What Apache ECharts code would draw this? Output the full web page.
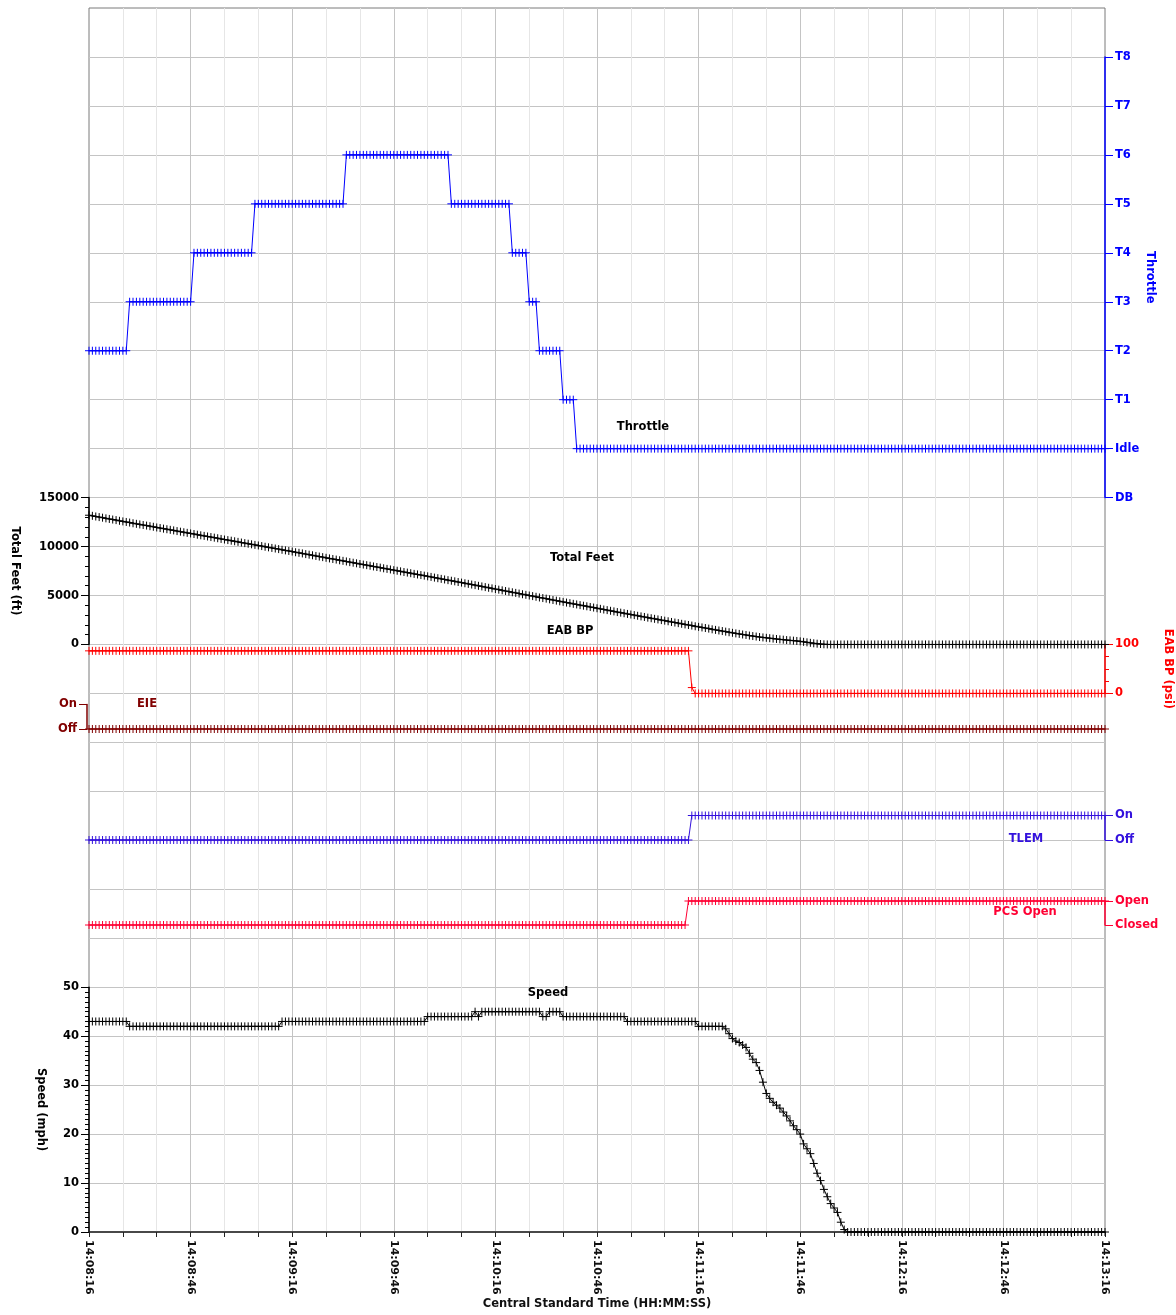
<!DOCTYPE html>
<html>
<head>
<meta charset="utf-8">
<title>Throttle / Speed event recorder</title>
<script src="https://cdn.jsdelivr.net/npm/echarts@6/dist/echarts.min.js"></script>
<style>
  html, body { margin: 0; padding: 0; background: #fff; }
  #main { width: 1176px; height: 1315px; }
</style>
</head>
<body>
<div id="main"></div>
<script>
// tick labels
var timeLabels = ['14:08:16', '14:08:46', '14:09:16', '14:09:46', '14:10:16', '14:10:46',
                  '14:11:16', '14:11:46', '14:12:16', '14:12:46', '14:13:16'];
var throttleLabels = ['DB', 'Idle', 'T1', 'T2', 'T3', 'T4', 'T5', 'T6', 'T7', 'T8'];
var onOffLabels = ['Off', 'On'];
var pcsLabels = ['Closed', 'Open'];

// one sample per second from 14:08:16, each row = 30 s
var throttle = [
  3,3,3,3,3,3,3,3,3,3, 3,3,4,4,4,4,4,4,4,4, 4,4,4,4,4,4,4,4,4,4,
  4,5,5,5,5,5,5,5,5,5, 5,5,5,5,5,5,5,5,5,6, 6,6,6,6,6,6,6,6,6,6,
  6,6,6,6,6,6,6,6,6,6, 6,6,6,6,6,6,7,7,7,7, 7,7,7,7,7,7,7,7,7,7,
  7,7,7,7,7,7,7,7,7,7, 7,7,7,7,7,7,7,6,6,6, 6,6,6,6,6,6,6,6,6,6,
  6,6,6,6,6,5,5,5,5,5, 4,4,4,3,3,3,3,3,3,3, 2,2,2,2,1,1,1,1,1,1,
  1,1,1,1,1,1,1,1,1,1, 1,1,1,1,1,1,1,1,1,1, 1,1,1,1,1,1,1,1,1,1,
  1,1,1,1,1,1,1,1,1,1, 1,1,1,1,1,1,1,1,1,1, 1,1,1,1,1,1,1,1,1,1,
  1,1,1,1,1,1,1,1,1,1, 1,1,1,1,1,1,1,1,1,1, 1,1,1,1,1,1,1,1,1,1,
  1,1,1,1,1,1,1,1,1,1, 1,1,1,1,1,1,1,1,1,1, 1,1,1,1,1,1,1,1,1,1,
  1,1,1,1,1,1,1,1,1,1, 1,1,1,1,1,1,1,1,1,1, 1,1,1,1,1,1,1,1,1,1,
  1
];

var totalFeet = [
  13200,13140,13070,13010,12950,12880,12820,12760,12700,12630, 12570,12510,12450,12380,12320,12260,12200,12140,12080,12020, 11950,11890,11830,11770,11710,11650,11580,11520,11460,11400,
  11340,11280,11210,11150,11090,11030,10970,10910,10850,10780, 10720,10660,10600,10540,10480,10410,10350,10290,10230,10170, 10110,10050,9980,9920,9860,9800,9740,9670,9610,9550,
  9490,9420,9360,9300,9230,9170,9110,9040,8980,8920, 8850,8790,8730,8670,8600,8540,8480,8410,8350,8290, 8220,8160,8100,8040,7970,7910,7850,7780,7720,7660,
  7590,7530,7470,7400,7340,7280,7210,7150,7090,7030, 6960,6900,6830,6770,6700,6640,6570,6510,6450,6380, 6320,6250,6190,6120,6060,5990,5930,5860,5790,5730,
  5660,5600,5530,5460,5400,5330,5270,5200,5130,5070, 5000,4940,4870,4800,4740,4680,4610,4540,4480,4410, 4350,4280,4220,4150,4090,4020,3960,3900,3830,3770,
  3700,3640,3570,3510,3440,3380,3310,3250,3190,3120, 3060,3000,2930,2870,2810,2740,2680,2620,2560,2490, 2430,2370,2300,2240,2180,2110,2050,1990,1930,1860,
  1800,1740,1680,1620,1550,1490,1430,1370,1310,1250, 1190,1130,1080,1020,970,910,860,810,760,720, 680,640,600,560,520,490,450,420,390,360,
  320,270,220,170,120,80,45,20,5,0, 0,0,0,0,0,0,0,0,0,0, 0,0,0,0,0,0,0,0,0,0,
  0,0,0,0,0,0,0,0,0,0, 0,0,0,0,0,0,0,0,0,0, 0,0,0,0,0,0,0,0,0,0,
  0,0,0,0,0,0,0,0,0,0, 0,0,0,0,0,0,0,0,0,0, 0,0,0,0,0,0,0,0,0,0,
  0
];

var eabBP = [
  87,87,87,87,87,87,87,87,87,87, 87,87,87,87,87,87,87,87,87,87, 87,87,87,87,87,87,87,87,87,87,
  87,87,87,87,87,87,87,87,87,87, 87,87,87,87,87,87,87,87,87,87, 87,87,87,87,87,87,87,87,87,87,
  87,87,87,87,87,87,87,87,87,87, 87,87,87,87,87,87,87,87,87,87, 87,87,87,87,87,87,87,87,87,87,
  87,87,87,87,87,87,87,87,87,87, 87,87,87,87,87,87,87,87,87,87, 87,87,87,87,87,87,87,87,87,87,
  87,87,87,87,87,87,87,87,87,87, 87,87,87,87,87,87,87,87,87,87, 87,87,87,87,87,87,87,87,87,87,
  87,87,87,87,87,87,87,87,87,87, 87,87,87,87,87,87,87,87,87,87, 87,87,87,87,87,87,87,87,12,0,
  0,0,0,0,0,0,0,0,0,0, 0,0,0,0,0,0,0,0,0,0, 0,0,0,0,0,0,0,0,0,0,
  0,0,0,0,0,0,0,0,0,0, 0,0,0,0,0,0,0,0,0,0, 0,0,0,0,0,0,0,0,0,0,
  0,0,0,0,0,0,0,0,0,0, 0,0,0,0,0,0,0,0,0,0, 0,0,0,0,0,0,0,0,0,0,
  0,0,0,0,0,0,0,0,0,0, 0,0,0,0,0,0,0,0,0,0, 0,0,0,0,0,0,0,0,0,0,
  0
];

var eie = [
  0,0,0,0,0,0,0,0,0,0, 0,0,0,0,0,0,0,0,0,0, 0,0,0,0,0,0,0,0,0,0,
  0,0,0,0,0,0,0,0,0,0, 0,0,0,0,0,0,0,0,0,0, 0,0,0,0,0,0,0,0,0,0,
  0,0,0,0,0,0,0,0,0,0, 0,0,0,0,0,0,0,0,0,0, 0,0,0,0,0,0,0,0,0,0,
  0,0,0,0,0,0,0,0,0,0, 0,0,0,0,0,0,0,0,0,0, 0,0,0,0,0,0,0,0,0,0,
  0,0,0,0,0,0,0,0,0,0, 0,0,0,0,0,0,0,0,0,0, 0,0,0,0,0,0,0,0,0,0,
  0,0,0,0,0,0,0,0,0,0, 0,0,0,0,0,0,0,0,0,0, 0,0,0,0,0,0,0,0,0,0,
  0,0,0,0,0,0,0,0,0,0, 0,0,0,0,0,0,0,0,0,0, 0,0,0,0,0,0,0,0,0,0,
  0,0,0,0,0,0,0,0,0,0, 0,0,0,0,0,0,0,0,0,0, 0,0,0,0,0,0,0,0,0,0,
  0,0,0,0,0,0,0,0,0,0, 0,0,0,0,0,0,0,0,0,0, 0,0,0,0,0,0,0,0,0,0,
  0,0,0,0,0,0,0,0,0,0, 0,0,0,0,0,0,0,0,0,0, 0,0,0,0,0,0,0,0,0,0,
  0
];

var tlem = [
  0,0,0,0,0,0,0,0,0,0, 0,0,0,0,0,0,0,0,0,0, 0,0,0,0,0,0,0,0,0,0,
  0,0,0,0,0,0,0,0,0,0, 0,0,0,0,0,0,0,0,0,0, 0,0,0,0,0,0,0,0,0,0,
  0,0,0,0,0,0,0,0,0,0, 0,0,0,0,0,0,0,0,0,0, 0,0,0,0,0,0,0,0,0,0,
  0,0,0,0,0,0,0,0,0,0, 0,0,0,0,0,0,0,0,0,0, 0,0,0,0,0,0,0,0,0,0,
  0,0,0,0,0,0,0,0,0,0, 0,0,0,0,0,0,0,0,0,0, 0,0,0,0,0,0,0,0,0,0,
  0,0,0,0,0,0,0,0,0,0, 0,0,0,0,0,0,0,0,0,0, 0,0,0,0,0,0,0,0,1,1,
  1,1,1,1,1,1,1,1,1,1, 1,1,1,1,1,1,1,1,1,1, 1,1,1,1,1,1,1,1,1,1,
  1,1,1,1,1,1,1,1,1,1, 1,1,1,1,1,1,1,1,1,1, 1,1,1,1,1,1,1,1,1,1,
  1,1,1,1,1,1,1,1,1,1, 1,1,1,1,1,1,1,1,1,1, 1,1,1,1,1,1,1,1,1,1,
  1,1,1,1,1,1,1,1,1,1, 1,1,1,1,1,1,1,1,1,1, 1,1,1,1,1,1,1,1,1,1,
  1
];

var pcsOpen = [
  0,0,0,0,0,0,0,0,0,0, 0,0,0,0,0,0,0,0,0,0, 0,0,0,0,0,0,0,0,0,0,
  0,0,0,0,0,0,0,0,0,0, 0,0,0,0,0,0,0,0,0,0, 0,0,0,0,0,0,0,0,0,0,
  0,0,0,0,0,0,0,0,0,0, 0,0,0,0,0,0,0,0,0,0, 0,0,0,0,0,0,0,0,0,0,
  0,0,0,0,0,0,0,0,0,0, 0,0,0,0,0,0,0,0,0,0, 0,0,0,0,0,0,0,0,0,0,
  0,0,0,0,0,0,0,0,0,0, 0,0,0,0,0,0,0,0,0,0, 0,0,0,0,0,0,0,0,0,0,
  0,0,0,0,0,0,0,0,0,0, 0,0,0,0,0,0,0,0,0,0, 0,0,0,0,0,0,0,1,1,1,
  1,1,1,1,1,1,1,1,1,1, 1,1,1,1,1,1,1,1,1,1, 1,1,1,1,1,1,1,1,1,1,
  1,1,1,1,1,1,1,1,1,1, 1,1,1,1,1,1,1,1,1,1, 1,1,1,1,1,1,1,1,1,1,
  1,1,1,1,1,1,1,1,1,1, 1,1,1,1,1,1,1,1,1,1, 1,1,1,1,1,1,1,1,1,1,
  1,1,1,1,1,1,1,1,1,1, 1,1,1,1,1,1,1,1,1,1, 1,1,1,1,1,1,1,1,1,1,
  1
];

var speed = [
  43,43,43,43,43,43,43,43,43,43, 43,43,42,42,42,42,42,42,42,42, 42,42,42,42,42,42,42,42,42,42,
  42,42,42,42,42,42,42,42,42,42, 42,42,42,42,42,42,42,42,42,42, 42,42,42,42,42,42,42,43,43,43,
  43,43,43,43,43,43,43,43,43,43, 43,43,43,43,43,43,43,43,43,43, 43,43,43,43,43,43,43,43,43,43,
  43,43,43,43,43,43,43,43,43,43, 44,44,44,44,44,44,44,44,44,44, 44,44,44,44,45,44,45,45,45,45,
  45,45,45,45,45,45,45,45,45,45, 45,45,45,45,44,44,45,45,45,45, 44,44,44,44,44,44,44,44,44,44,
  44,44,44,44,44,44,44,44,44,43, 43,43,43,43,43,43,43,43,43,43, 43,43,43,43,43,43,43,43,43,43,
  42,42,42,42,42,42,42,42,41.5,40.5, 39.5,39,38.7,38.2,37.7,36.5,35.3,34.6,33,30.6, 28.3,27.3,26.5,25.9,25.3,24.5,23.7,22.7,21.7,20.9,
  20,18,17,16,14,12,10.5,8.7,7.2,5.8, 4.9,4,2,0.5,0,0,0,0,0,0, 0,0,0,0,0,0,0,0,0,0,
  0,0,0,0,0,0,0,0,0,0, 0,0,0,0,0,0,0,0,0,0, 0,0,0,0,0,0,0,0,0,0,
  0,0,0,0,0,0,0,0,0,0, 0,0,0,0,0,0,0,0,0,0, 0,0,0,0,0,0,0,0,0,0,
  0
];

var chart = echarts.init(document.getElementById('main'));

var FONT = 'DejaVu Sans';
var ROW = 1224 / 25;          // background row height
var TOP = 8;
var plus = 'path://M4,0L4,8M0,4L8,4';

var C_THR = '#0000ff', C_EAB = '#ff0000', C_EIE = '#800000',
    C_TLEM = '#3311dd', C_PCS = '#ff0033', C_BLK = '#000000';

function gridAt(top, height) {
  return { left: 89, width: 1016, top: top, height: height, outerBoundsMode: 'none' };
}

function hiddenX(gi) {
  return { gridIndex: gi, type: 'value', min: 0, max: 300, show: false };
}

function txt(color, size) {
  return { color: color, fontFamily: FONT, fontWeight: 'bold', fontSize: size || 11.5 };
}

function plain(v) { return String(v); }

function sideAxis(gi, pos, min, max, interval, color, formatter, extra) {
  var ax = {
    gridIndex: gi, type: 'value', position: pos, min: min, max: max, interval: interval,
    axisLine: { show: true, onZero: false, lineStyle: { color: color, width: 1.5 } },
    axisTick: { show: true, length: 8, lineStyle: { color: color } },
    axisLabel: Object.assign(txt(color), { margin: 10, showMinLabel: true, showMaxLabel: true, formatter: formatter || plain }),
    splitLine: { show: false },
    nameMoveOverlap: false
  };
  return Object.assign(ax, extra || {});
}

function mk(name, arr, gi, color) {
  return {
    name: name, type: 'line', xAxisIndex: gi, yAxisIndex: gi,
    data: arr.map(function (v, i) { return [i, v]; }),
    symbol: plus, symbolSize: 8, showSymbol: true, showAllSymbol: true,
    clip: false, silent: true,
    lineStyle: { color: color, width: 1 },
    itemStyle: { color: color, borderColor: color, borderWidth: 1 }
  };
}

var bg = gridAt(TOP, 1224);
bg.show = true;
bg.borderColor = '#7a7a7a';
bg.borderWidth = 1;
bg.backgroundColor = 'transparent';

var option = {
  animation: false,
  backgroundColor: '#ffffff',
  grid: [
    bg,
    gridAt(TOP + ROW, 9 * ROW),          // throttle
    gridAt(TOP + 10 * ROW, 3 * ROW),     // total feet
    gridAt(TOP + 13 * ROW, ROW),         // EAB BP
    gridAt(704.5, 24.5),                 // EIE
    gridAt(815.5, 24.5),                 // TLEM
    gridAt(901, 24),                     // PCS
    gridAt(TOP + 20 * ROW, 5 * ROW)      // speed
  ],
  xAxis: [
    {
      gridIndex: 0, type: 'value', min: 0, max: 300, interval: 30,
      axisLine: { show: false }, axisTick: { show: false }, axisLabel: { show: false },
      splitLine: { show: true, showMinLine: false, showMaxLine: false, lineStyle: { color: '#c4c4c4' } },
      minorTick: { show: false, splitNumber: 3 },
      minorSplitLine: { show: true, lineStyle: { color: '#e6e6e6' } }
    },
    hiddenX(1), hiddenX(2), hiddenX(3), hiddenX(4), hiddenX(5), hiddenX(6),
    {
      gridIndex: 7, type: 'value', min: 0, max: 300, interval: 30,
      axisLine: { show: true, onZero: false, lineStyle: { color: '#222', width: 1.5 } },
      axisTick: { show: true, length: 5, lineStyle: { color: '#222' } },
      minorTick: { show: true, splitNumber: 3, length: 5, lineStyle: { color: '#222' } },
      splitLine: { show: false },
      axisLabel: Object.assign(txt('#111', 11), {
        rotate: -90, margin: 8, showMinLabel: true, showMaxLabel: true,
        formatter: function (v) { return timeLabels[Math.round(v / 30)]; }
      }),
      name: 'Central Standard Time (HH:MM:SS)', nameLocation: 'middle', nameGap: 66,
      nameMoveOverlap: false,
      nameTextStyle: txt('#111')
    }
  ],
  yAxis: [
    {
      gridIndex: 0, type: 'value', min: 0, max: 25, interval: 1,
      axisLine: { show: false }, axisTick: { show: false }, axisLabel: { show: false },
      splitLine: { show: true, showMinLine: false, showMaxLine: false, lineStyle: { color: '#c4c4c4' } }
    },
    sideAxis(1, 'right', 0, 9, 1, C_THR, function (v) { return throttleLabels[v]; }, {
      name: 'Throttle', nameLocation: 'middle', nameRotate: -90, nameGap: 39, nameTextStyle: txt(C_THR)
    }),
    sideAxis(2, 'left', 0, 15000, 5000, C_BLK, null, {
      minorTick: { show: true, splitNumber: 5, length: 4, lineStyle: { color: C_BLK } },
      name: 'Total Feet (ft)', nameLocation: 'middle', nameRotate: -90, nameGap: 68, nameTextStyle: txt(C_BLK)
    }),
    sideAxis(3, 'right', 0, 100, 100, C_EAB, null, {
      minorTick: { show: true, splitNumber: 4, length: 4, lineStyle: { color: C_EAB } },
      name: 'EAB BP (psi)', nameLocation: 'middle', nameRotate: -90, nameGap: 57, nameTextStyle: txt(C_EAB)
    }),
    sideAxis(4, 'left', 0, 1, 1, C_EIE, function (v) { return onOffLabels[v]; }, { offset: 2 }),
    sideAxis(5, 'right', 0, 1, 1, C_TLEM, function (v) { return onOffLabels[v]; }),
    sideAxis(6, 'right', 0, 1, 1, C_PCS, function (v) { return pcsLabels[v]; }),
    sideAxis(7, 'left', 0, 50, 10, C_BLK, null, {
      minorTick: { show: true, splitNumber: 10, length: 4, lineStyle: { color: C_BLK } },
      name: 'Speed (mph)', nameLocation: 'middle', nameRotate: -90, nameGap: 42, nameTextStyle: txt(C_BLK)
    })
  ],
  series: [
    mk('Throttle', throttle, 1, C_THR),
    mk('Total Feet', totalFeet, 2, C_BLK),
    mk('EAB BP', eabBP, 3, C_EAB),
    mk('EIE', eie, 4, C_EIE),
    mk('TLEM', tlem, 5, C_TLEM),
    mk('PCS Open', pcsOpen, 6, C_PCS),
    mk('Speed', speed, 7, C_BLK)
  ],
  graphic: [
    ['Throttle', 643, 427, C_BLK],
    ['Total Feet', 582, 558, C_BLK],
    ['EAB BP', 570, 631, C_BLK],
    ['EIE', 147, 704, C_EIE],
    ['TLEM', 1026, 839, C_TLEM],
    ['PCS Open', 1025, 912, C_PCS],
    ['Speed', 548, 993, C_BLK]
  ].map(function (d) {
    return {
      type: 'text', x: d[1], y: d[2], z: 100, silent: true,
      style: {
        text: d[0], fill: d[3], font: 'bold 11.5px "' + FONT + '"',
        align: 'center', verticalAlign: 'middle',
        textAlign: 'center', textVerticalAlign: 'middle'
      }
    };
  })
};

chart.setOption(option);
</script>
</body>
</html>
